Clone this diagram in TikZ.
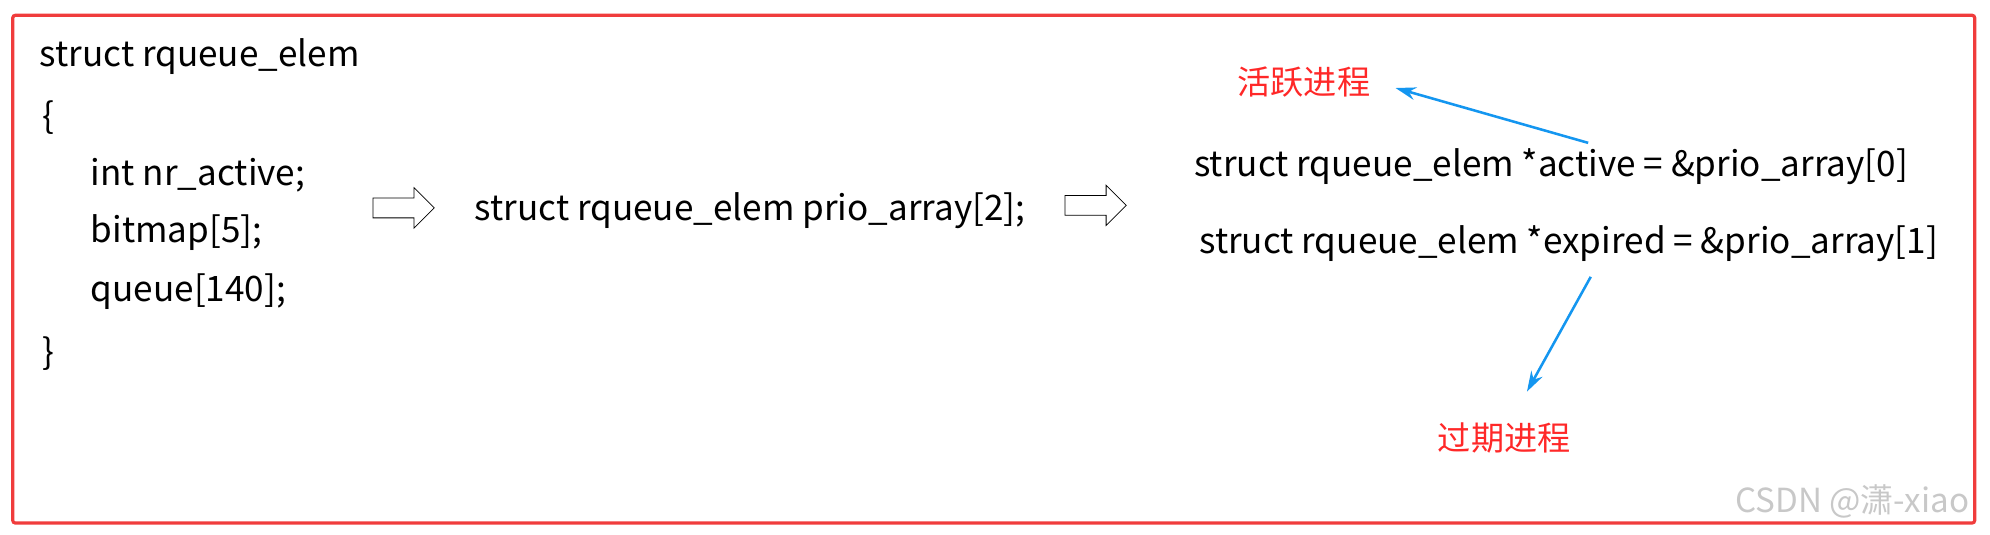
\documentclass[tikz,border=0pt]{standalone}
\usepackage{fontspec}
\setmainfont{Noto Sans CJK SC}
\usetikzlibrary{shapes.arrows,arrows.meta}
\definecolor{framered}{RGB}{240,60,60}
\definecolor{tagred}{RGB}{255,40,40}
\definecolor{ptrblue}{RGB}{20,150,240}
\definecolor{markgray}{RGB}{200,200,200}

\begin{document}
\begin{tikzpicture}[x=1pt,y=-1pt]
    \useasboundingbox (0,0) rectangle (1560,419);
    \draw[framered, line width=2.5pt, rounded corners=2pt] (10,12) rectangle (1548,410);

    \begin{scope}[
            every node/.style={anchor=west, inner sep=0pt, font=\fontsize{27.5}{30}\selectfont},
            tag/.style={text=tagred, font=\fontsize{26}{28}\selectfont},
            hollow/.style={single arrow, draw, semithick, minimum height=48pt, inner xsep=0pt,
                inner ysep=7.5pt, single arrow head extend=8pt, anchor=center},
            pointer/.style={ptrblue, line width=2pt, -{Stealth[length=16pt,width=10pt]}}
        ]

        % the struct
        \node (head) at (31,44) {struct rqueue\_elem};
        \node (open) at (33,92) {\{};
        \node (f1) at (71,137) {int nr\_active;};
        \node (f2) at (71,182) {bitmap[5];};
        \node (f3) at (71,229) {queue[140];};
        \node (close) at (33,277) {\}};

        % array and pointers
        \node[hollow] (arr1) at (312.5,163) {};
        \node (prio) at (372,165) {struct rqueue\_elem prio\_array[2];};
        \node[hollow] (arr2) at (855,161) {};
        \node (act) at (936,131) {struct rqueue\_elem *active = \&prio\_array[0]};
        \node (exp) at (940,191) {struct rqueue\_elem *expired = \&prio\_array[1]};

        \node[tag] (actlbl) at (970,64) {活跃进程};
        \node[tag] (explbl) at (1127,343) {过期进程};
        \coordinate (actfrom) at (1245,112);
        \coordinate (acttip) at (1094,69);
        \coordinate (expfrom) at (1247,217);
        \coordinate (exptip) at (1197,307);
        \draw[pointer] (actfrom) -- (acttip);
        \draw[pointer] (expfrom) -- (exptip);

        \node[text=markgray, font=\fontsize{26}{28}\selectfont] (mark) at (1360,393) {CSDN @潇-xiao};
    \end{scope}
\end{tikzpicture}
\end{document}
